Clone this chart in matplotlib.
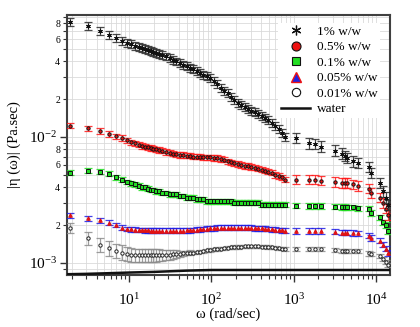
import numpy as np
import matplotlib
matplotlib.use("Agg")
import matplotlib.pyplot as plt
from matplotlib.ticker import LogLocator, LogFormatterMathtext, FuncFormatter, NullFormatter
from matplotlib.lines import Line2D

plt.rcParams['font.family'] = ['Liberation Serif', 'DejaVu Serif']
plt.rcParams['mathtext.fontset'] = 'stix'

# frequency grid (rad/sec): dense sweep, then sparse high-frequency points
w_low = [1.9, 3.15, 4.4, 5.65, 6.9, 8.15, 9.4, 10.65, 11.9, 13.15, 14.4, 15.65, 16.9, 18.15, 19.4,
         21, 23, 25, 28, 31, 34, 37, 41, 45, 50,
         55, 60, 66, 73, 80, 88, 97, 107, 118, 130,
         143, 157, 173, 190, 209, 230, 253, 278, 306, 337,
         370, 407, 448, 493, 542, 596, 656, 720, 780]
w_high = [1070, 1520, 1800, 2150, 3210, 3840, 4210, 4490, 5220, 6110, 8250, 8720, 11200, 12300, 13270, 14150]

eta_1_low = [0.0822, 0.0764, 0.0694, 0.0645, 0.0611, 0.0581, 0.0554, 0.0544, 0.0532, 0.0516, 0.0508, 0.0500, 0.0492, 0.0484, 0.0476,
             0.0468, 0.0458, 0.0448, 0.0436, 0.0423, 0.0410, 0.0398, 0.0386, 0.0376, 0.0365,
             0.0355, 0.0344, 0.0334, 0.0323, 0.0313, 0.0303, 0.0292, 0.0278, 0.0262, 0.0245,
             0.0233, 0.0222, 0.0208, 0.0196, 0.0187, 0.0180, 0.0173, 0.0167, 0.0162, 0.0157,
             0.0153, 0.0148, 0.0142, 0.0136, 0.0129, 0.0122, 0.0115, 0.0107, 0.0100]
eta_1_high = [0.0098, 0.0089, 0.0088, 0.0084, 0.0078, 0.0074, 0.0071, 0.0068, 0.0064, 0.0062, 0.0058, 0.0052, 0.0043, 0.0037, 0.0033, 0.0029]

eta_05_low = [0.0123, 0.0117, 0.0112, 0.0106, 0.0101, 0.0098, 0.0094, 0.0091, 0.0089, 0.0087, 0.0085, 0.0084, 0.0083, 0.0082, 0.0081,
              0.0080, 0.0079, 0.0078, 0.0076, 0.0075, 0.0074, 0.0073, 0.0072, 0.0072, 0.0071,
              0.0071, 0.0070, 0.0070, 0.0070, 0.0069, 0.0069, 0.0069, 0.0068, 0.0068, 0.0067,
              0.0066, 0.0064, 0.0063, 0.0062, 0.0061, 0.0060, 0.0059, 0.0059, 0.0058, 0.0057,
              0.0056, 0.0055, 0.0054, 0.0053, 0.0052, 0.0050, 0.0049, 0.0048, 0.0046]
eta_05_high = [0.0046, 0.0046, 0.0046, 0.0045, 0.0044, 0.0043, 0.0043, 0.0043, 0.0042, 0.0041, 0.0039, 0.0036, 0.0033, 0.0030, 0.0027, 0.0024]

eta_01_low = [0.0052, 0.0054, 0.0053, 0.0051, 0.0048, 0.0046, 0.0044, 0.0043, 0.0042, 0.0041, 0.0040, 0.0040, 0.0039, 0.0038, 0.0038,
              0.0037, 0.0037, 0.0036, 0.0036, 0.0035, 0.0035, 0.0035, 0.0034, 0.0034, 0.0033,
              0.0033, 0.0033, 0.0032, 0.0032, 0.0032, 0.0031, 0.0031, 0.0031, 0.0031, 0.0031,
              0.0031, 0.0031, 0.0031, 0.0030, 0.0030, 0.0030, 0.0030, 0.0030, 0.0030, 0.0030,
              0.0030, 0.0029, 0.0029, 0.0029, 0.0029, 0.0029, 0.0029, 0.0029, 0.0029]
eta_01_high = [0.00285, 0.00284, 0.00284, 0.00284, 0.0028, 0.00278, 0.00278, 0.00277, 0.00277, 0.00272, 0.0027, 0.0025, 0.0023, 0.0021, 0.0020, 0.0018]

eta_005_low = [0.0024, 0.00226, 0.00219, 0.00209, 0.0020, 0.00191, 0.00186, 0.00185, 0.00184, 0.00183, 0.00183, 0.00182, 0.00182, 0.00181, 0.00181,
               0.0018, 0.0018, 0.0018, 0.0018, 0.0018, 0.0018, 0.0018, 0.00181, 0.00181, 0.00182,
               0.00182, 0.00183, 0.00184, 0.00185, 0.00186, 0.00187, 0.00188, 0.00189, 0.0019, 0.0019,
               0.0019, 0.0019, 0.00191, 0.00191, 0.00191, 0.0019, 0.0019, 0.0019, 0.0019, 0.00189,
               0.00189, 0.00188, 0.00187, 0.00186, 0.00185, 0.00184, 0.00183, 0.00182, 0.0018]
eta_005_high = [0.0018, 0.0018, 0.0018, 0.0018, 0.00177, 0.00174, 0.00174, 0.00174, 0.00173, 0.00172, 0.00165, 0.00158, 0.0015, 0.0014, 0.0013, 0.0012]

eta_001_low = [0.0019, 0.00157, 0.00139, 0.00131, 0.00125, 0.00121, 0.00118, 0.00116, 0.00115, 0.00115, 0.00115, 0.00115, 0.00115, 0.00115, 0.00115,
               0.00115, 0.00115, 0.00115, 0.00116, 0.00116, 0.00117, 0.00118, 0.00118, 0.00119, 0.0012,
               0.00121, 0.00121, 0.00122, 0.00123, 0.00124, 0.00126, 0.00127, 0.00128, 0.00129, 0.0013,
               0.00131, 0.00132, 0.00133, 0.00134, 0.00134, 0.00135, 0.00136, 0.00136, 0.00136, 0.00136,
               0.00136, 0.00135, 0.00135, 0.00134, 0.00133, 0.00132, 0.00131, 0.0013, 0.00129]
eta_001_high = [0.00129, 0.00129, 0.00129, 0.00129, 0.00127, 0.00125, 0.00125, 0.00125, 0.00124, 0.00124, 0.00119, 0.00118, 0.00114, 0.00108, 0.00102, 0.00097]

# relative error of the 0.01% sample (large at low frequency)
err_001_low = [0.10, 0.12, 0.135, 0.145, 0.14, 0.14, 0.14, 0.135, 0.13, 0.13, 0.13, 0.13, 0.13, 0.13, 0.125,
               0.12, 0.115, 0.11, 0.10, 0.09, 0.08, 0.07, 0.06, 0.05, 0.045,
               0.04, 0.035, 0.03, 0.03, 0.03, 0.03, 0.03, 0.03, 0.03, 0.03,
               0.03, 0.03, 0.03, 0.03, 0.03, 0.03, 0.03, 0.03, 0.03, 0.03,
               0.03, 0.03, 0.03, 0.03, 0.03, 0.03, 0.03, 0.03, 0.03]

w_water = [1.8, 3, 5, 10, 20, 50, 100, 300, 1000, 3000, 14800]
eta_water = [0.000815, 0.00082, 0.000828, 0.00084, 0.00085, 0.00087, 0.00088, 0.00088, 0.00088, 0.00088, 0.00088]

labels = ['1% w/w', '0.5% w/w', '0.1% w/w', '0.05% w/w', '0.01% w/w', 'water']

ASTER = (6, 2, 0)

fig = plt.figure(figsize=(4.2, 3.27), dpi=100)
ax = fig.add_axes([0.1595, 0.159, 0.769, 0.795])

w_all = np.array(w_low + w_high)


def draw(low, high, rel_low, rel_high, marker, mfc, mec, ecolor, ms, z):
    y = np.array(low + high)
    if np.ndim(rel_low) == 0:
        rel_low = [rel_low] * len(low)
    rel = np.array(list(rel_low) + [rel_high] * len(high))
    ax.errorbar(w_all, y, yerr=[y - y / (1 + rel), y * rel], fmt='none',
                ecolor=ecolor, elinewidth=0.9, capsize=3.0, capthick=0.9, alpha=0.85, zorder=z)
    ax.plot(w_all, y, ls='none', marker=marker, ms=ms, mfc=mfc, mec=mec, mew=0.7, zorder=z + 0.5)


ax.plot(w_water, eta_water, color='#111111', lw=1.8, zorder=3)
draw(eta_001_low, eta_001_high, err_001_low, 0.04, 'o', 'white', '#222222', '#8c8c8c', 2.4, 4)
draw(eta_005_low, eta_005_high, 0.045, 0.05, '^', '#ee1111', '#dd1111', '#1f1fe6', 2.6, 5)
draw(eta_01_low, eta_01_high, 0.045, 0.05, 's', '#22dd22', '#111111', '#22dd22', 2.3, 6)
draw(eta_05_low, eta_05_high, 0.05, 0.09, 'o', '#ee1111', '#111111', '#ff1a1a', 2.4, 7)
draw(eta_1_low, eta_1_high, 0.075, 0.10, ASTER, '#111111', '#111111', '#2a2a2a', 3.2, 8)

ax.set_xscale('log')
ax.set_yscale('log')
ax.set_xlim(1.75, 14830)
ax.set_ylim(0.000803, 0.093)

ax.xaxis.set_major_locator(LogLocator(base=10))
ax.xaxis.set_minor_locator(LogLocator(base=10, subs=np.arange(2, 10)))
ax.xaxis.set_major_formatter(LogFormatterMathtext())
ax.xaxis.set_minor_formatter(NullFormatter())
ax.yaxis.set_major_locator(LogLocator(base=10))
ax.yaxis.set_minor_locator(LogLocator(base=10, subs=np.arange(2, 10)))
ax.yaxis.set_major_formatter(LogFormatterMathtext())


def minor_fmt(v, pos):
    k = int(round(v / 10 ** np.floor(np.log10(v) + 1e-9)))
    return str(k) if k in (2, 4, 6, 8) else ''


ax.yaxis.set_minor_formatter(FuncFormatter(minor_fmt))

ax.tick_params(which='both', direction='out', color='#333333', top=False, right=False)
ax.tick_params(which='major', length=5, width=1.0, labelsize=11)
ax.tick_params(which='minor', length=3, width=0.8)
ax.tick_params(axis='x', which='major', pad=7)
ax.tick_params(axis='y', which='minor', labelsize=7, pad=2)
ax.tick_params(axis='y', which='major', pad=2)

ax.grid(True, which='both', color='#dadada', lw=0.6, zorder=0)
ax.set_axisbelow(True)
for s in ax.spines.values():
    s.set_color('#404040')
    s.set_linewidth(1.5)

ax.set_xlabel('ω (rad/sec)', fontsize=10.5, labelpad=0)
ax.set_ylabel('|η (ω)| (Pa.sec)', fontsize=10.5, labelpad=6)

handles = [
    Line2D([], [], ls='none', marker=ASTER, ms=7, mfc='#111111', mec='#111111', mew=0.9),
    Line2D([], [], ls='none', marker='o', ms=6.5, mfc='#ee1111', mec='#111111', mew=0.8),
    Line2D([], [], ls='none', marker='s', ms=6, mfc='#22dd22', mec='#111111', mew=0.8),
    Line2D([], [], ls='none', marker='^', ms=6.5, mfc='#2020e0', mec='#ee1111', mew=1.0),
    Line2D([], [], ls='none', marker='o', ms=6, mfc='white', mec='#111111', mew=0.8),
    Line2D([], [], color='#111111', lw=1.8),
]
leg = ax.legend(handles, labels, loc='upper right', bbox_to_anchor=(0.99, 0.995), fontsize=9.5,
                frameon=True, facecolor='white', edgecolor='none', framealpha=1, fancybox=False,
                labelspacing=0.25, handlelength=2.2, handletextpad=0.5, borderpad=0.2)
leg.set_zorder(20)

fig.savefig('out.png', dpi=100)
